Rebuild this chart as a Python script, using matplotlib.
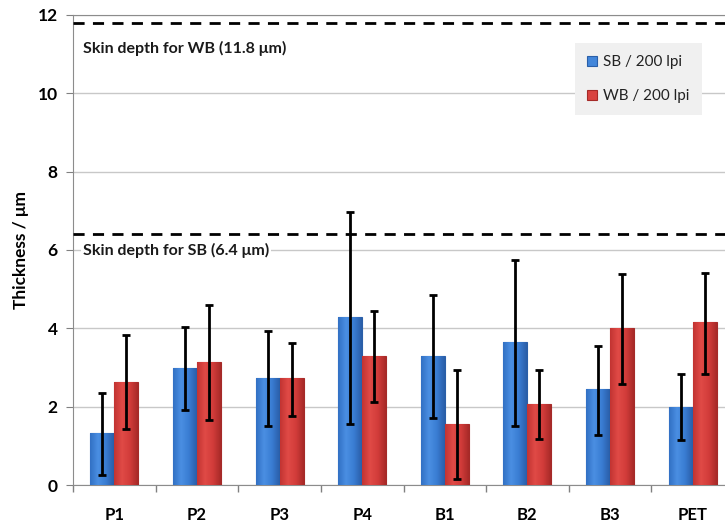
import matplotlib.pyplot as plt
import numpy as np
from matplotlib.colors import LinearSegmentedColormap

categories = ["P1", "P2", "P3", "P4", "B1", "B2", "B3", "PET"]

sb_mean = [1.34, 3.00, 2.73, 4.28, 3.29, 3.64, 2.44, 2.00]
sb_top = [2.36, 4.03, 3.93, 6.98, 4.85, 5.75, 3.55, 2.83]
sb_bot = [0.26, 1.92, 1.50, 1.55, 1.72, 1.51, 1.28, 1.15]

wb_mean = [2.64, 3.15, 2.72, 3.30, 1.57, 2.07, 4.00, 4.15]
wb_top = [3.84, 4.60, 3.62, 4.45, 2.94, 2.94, 5.40, 5.42]
wb_bot = [1.43, 1.65, 1.75, 2.12, 0.15, 1.17, 2.58, 2.83]

skin_wb = 11.8
skin_sb = 6.4

plt.rcParams['font.family'] = ['Lato', 'DejaVu Sans']

fig = plt.figure(figsize=(7.25, 5.25), dpi=100)
ax = fig.add_axes([73 / 725, 40 / 525, 661 / 725, 470 / 525])

x = np.arange(len(categories))
w = 0.29

sb = np.array(sb_mean)
wb = np.array(wb_mean)
sb_err = [sb - np.array(sb_bot), np.array(sb_top) - sb]
wb_err = [wb - np.array(wb_bot), np.array(wb_top) - wb]

blue_cm = LinearSegmentedColormap.from_list('b', ['#3270c4', '#4a8fe2', '#3a7dd3', '#2a5ea8'])
red_cm = LinearSegmentedColormap.from_list('r', ['#c23432', '#e04a46', '#d23c3a', '#a82a28'])
grad = np.linspace(0, 1, 64).reshape(1, -1)


def shaded_bars(xs, heights, cmap, edge, label):
    bars = ax.bar(xs, heights, w, color=cmap(0.5), edgecolor=edge, linewidth=0.8,
                  label=label, zorder=3)
    for b in bars:
        im = ax.imshow(grad, cmap=cmap, aspect='auto', zorder=3.1,
                       extent=[b.get_x(), b.get_x() + b.get_width(), 0, b.get_height()])
        im.set_clip_path(b)
    return bars


shaded_bars(x - w / 2, sb, blue_cm, '#2a5fa8', 'SB / 200 lpi')
shaded_bars(x + w / 2, wb, red_cm, '#a52a28', 'WB / 200 lpi')
ax.errorbar(x - w / 2, sb, yerr=sb_err, fmt='none', ecolor='black',
            elinewidth=2, capsize=3, capthick=2, zorder=4)
ax.errorbar(x + w / 2, wb, yerr=wb_err, fmt='none', ecolor='black',
            elinewidth=2, capsize=3, capthick=2, zorder=4)

ax.axhline(skin_wb, color='black', linestyle=(0, (4, 3)), linewidth=2, zorder=6)
ax.axhline(skin_sb, color='black', linestyle=(0, (4, 3)), linewidth=2, zorder=6)
ax.text(-0.38, skin_wb - 0.65, 'Skin depth for WB (11.8 \u03bcm)',
        fontsize=11.5, fontweight='bold', color='#1a1a1a', va='center', zorder=5)
ax.text(-0.38, 6.0, 'Skin depth for SB (6.4 \u03bcm)',
        fontsize=11.5, fontweight='bold', color='#1a1a1a', va='center', zorder=5,
        bbox=dict(facecolor='white', edgecolor='none', pad=1))

ax.set_xlim(-0.5, len(categories) - 0.5)
ax.set_ylim(0, 12)
ax.set_yticks(np.arange(0, 13, 2))
ax.set_xticks(x)
ax.set_xticklabels(categories, fontsize=12, fontweight='bold')
ax.set_xticks(np.arange(-0.5, len(categories), 1), minor=True)
ax.tick_params(axis='x', which='major', length=0, pad=16)
ax.tick_params(axis='x', which='minor', length=5, color='#808080', width=1)
ax.tick_params(axis='y', length=5, color='#808080', labelsize=12.5, pad=6)
for lbl in ax.get_yticklabels():
    lbl.set_fontweight('bold')

ax.yaxis.grid(True, color='#c8c8c8', linewidth=1, zorder=0)
ax.set_axisbelow(True)
for side in ['top', 'left', 'bottom']:
    ax.spines[side].set_color('#8c8c8c')
ax.spines['right'].set_visible(False)

ax.set_ylabel('Thickness / \u03bcm', fontsize=12.5, fontweight='bold', labelpad=6)

leg = ax.legend(loc='upper left', bbox_to_anchor=(575 / 725, 1 - 43 / 525),
                bbox_transform=fig.transFigure, fontsize=11, frameon=True,
                fancybox=False, handlelength=0.65, handleheight=0.65,
                handletextpad=0.4, labelspacing=1.3, borderpad=0.8,
                borderaxespad=0)
leg.get_frame().set_facecolor('#f0f0f0')
leg.get_frame().set_edgecolor('none')
leg.get_frame().set_alpha(1)
leg.set_zorder(7)
for txt in leg.get_texts():
    txt.set_color('#222222')

fig.savefig('out.png', dpi=100)
